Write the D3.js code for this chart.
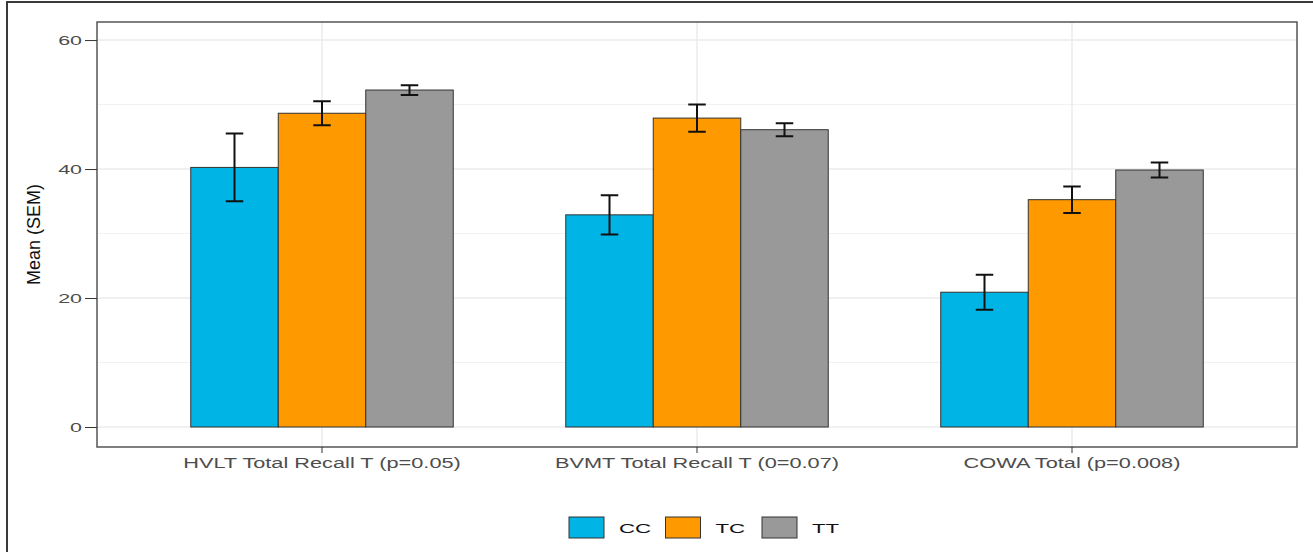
<!DOCTYPE html>
<html>
<head>
<meta charset="utf-8">
<script src="https://cdn.jsdelivr.net/npm/d3@7"></script>
<style>
  body { margin: 0; background: #fff; }
  text { font-family: "Liberation Sans", Arial, sans-serif; }
</style>
</head>
<body>
<svg id="barchart" width="1313" height="552"></svg>
<script>
// measures and groups
const tests = ["HVLT Total Recall T (p=0.05)", "BVMT Total Recall T (0=0.07)", "COWA Total (p=0.008)"]
const groups = ["CC", "TC", "TT"]

// mean per group, one entry per test
const meanCC = [40.25, 32.9, 20.9]
const meanTC = [48.65, 47.9, 35.25]
const meanTT = [52.25, 46.1, 39.85]

// standard error of the mean
const semCC = [5.25, 3.05, 2.7]
const semTC = [1.85, 2.1, 2.05]
const semTT = [0.75, 1.0, 1.15]

const yTicks = [0, 20, 40, 60]
const yMinor = [10, 30, 50]

const means = { CC: meanCC, TC: meanTC, TT: meanTT }
const sems = { CC: semCC, TC: semTC, TT: semTT }

var svg = d3.select("#barchart"),
    margin = { top: 22, right: 16, bottom: 105, left: 97 },
    width = +svg.attr("width") - margin.left - margin.right,
    height = +svg.attr("height") - margin.top - margin.bottom,
    g = svg.append("g").attr("transform", "translate(" + margin.left + "," + margin.top + ")");

// outer frame of the figure
svg.append("rect")
    .attr("x", 7).attr("y", 2)
    .attr("width", 1400).attr("height", 700)
    .attr("fill", "none")
    .attr("stroke", "#3a3a3a")
    .attr("stroke-width", 2);

var x0 = d3.scaleBand()
    .domain(tests)
    .range([0, width])
    .paddingInner(0.3)
    .paddingOuter(0.25);

var x1 = d3.scaleBand()
    .domain(groups)
    .range([0, x0.bandwidth()]);

var y = d3.scaleLinear()
    .domain([-3.1, 62.8])
    .range([height, 0]);

var z = d3.scaleOrdinal()
    .domain(groups)
    .range(["#00b4e6", "#ff9900", "#999999"]);

// grid lines
g.append("g").selectAll("line")
    .data(yMinor)
    .enter().append("line")
    .attr("x1", 0).attr("x2", width)
    .attr("y1", d => y(d)).attr("y2", d => y(d))
    .attr("stroke", "#f2f2f2").attr("stroke-width", 1);

g.append("g").selectAll("line")
    .data(yTicks)
    .enter().append("line")
    .attr("x1", 0).attr("x2", width)
    .attr("y1", d => y(d)).attr("y2", d => y(d))
    .attr("stroke", "#ebebeb").attr("stroke-width", 1.5);

g.append("g").selectAll("line")
    .data(tests)
    .enter().append("line")
    .attr("x1", d => x0(d) + x0.bandwidth() / 2).attr("x2", d => x0(d) + x0.bandwidth() / 2)
    .attr("y1", 0).attr("y2", height)
    .attr("stroke", "#ebebeb").attr("stroke-width", 1.5);

// bars
var bar = g.append("g")
    .selectAll("g")
    .data(tests)
    .enter().append("g")
    .attr("class", "bar")
    .attr("transform", function (d) { return "translate(" + x0(d) + ",0)"; })
    .selectAll("g")
    .data(function (d, i) {
        return groups.map(function (key) {
            return { key: key, value: means[key][i], sem: sems[key][i] };
        });
    })
    .enter().append("g");

bar.append("rect")
    .attr("x", d => x1(d.key))
    .attr("y", d => y(d.value))
    .attr("width", x1.bandwidth())
    .attr("height", d => y(0) - y(d.value))
    .attr("fill", d => z(d.key))
    .attr("stroke", "#333")
    .attr("stroke-width", 1);

// error bars
var cap = x1.bandwidth() * 0.1;
bar.append("path")
    .attr("d", function (d) {
        var cx = x1(d.key) + x1.bandwidth() / 2,
            hi = y(d.value + d.sem),
            lo = y(d.value - d.sem);
        return "M" + (cx - cap) + "," + hi + "H" + (cx + cap) +
            "M" + cx + "," + hi + "V" + lo +
            "M" + (cx - cap) + "," + lo + "H" + (cx + cap);
    })
    .attr("fill", "none")
    .attr("stroke", "#111")
    .attr("stroke-width", 2);

// panel border
g.append("rect")
    .attr("width", width).attr("height", height)
    .attr("fill", "none")
    .attr("stroke", "#555")
    .attr("stroke-width", 1.5);

// axes (the picture's text is wide, so labels get stretched sideways)
var yAxis = g.append("g")
    .call(d3.axisLeft(y).tickValues(yTicks).tickSize(12).tickPadding(4));
yAxis.select(".domain").remove();
yAxis.selectAll("line").attr("stroke", "#333");
yAxis.selectAll("text")
    .attr("x", 0)
    .attr("transform", "translate(-15,0) scale(1.65,1)")
    .attr("fill", "#4d4d4d")
    .attr("font-size", 13);

var xAxis = g.append("g")
    .attr("transform", "translate(0," + height + ")")
    .call(d3.axisBottom(x0).tickSize(6).tickPadding(5));
xAxis.select(".domain").remove();
xAxis.selectAll("line").attr("stroke", "#333");
xAxis.selectAll("text")
    .attr("transform", "scale(1.5,1)")
    .attr("fill", "#4d4d4d")
    .attr("font-size", 14.5);

svg.append("text")
    .attr("transform", "translate(40," + (margin.top + height / 2) + ") rotate(-90)")
    .attr("text-anchor", "middle")
    .attr("font-size", 18)
    .attr("fill", "#111")
    .text("Mean (SEM)");

// legend
var legend = svg.append("g")
    .selectAll("g")
    .data(groups)
    .enter().append("g")
    .attr("transform", (d, i) => "translate(" + (569 + i * 96.5) + ",517)");

legend.append("rect")
    .attr("width", 35).attr("height", 21)
    .attr("fill", z)
    .attr("stroke", "#333")
    .attr("stroke-width", 1);

legend.append("text")
    .attr("transform", "translate(50,11) scale(1.65,1)")
    .attr("dy", "0.35em")
    .attr("font-size", 13.5)
    .attr("fill", "#111")
    .text(d => d);
</script>
</body>
</html>
